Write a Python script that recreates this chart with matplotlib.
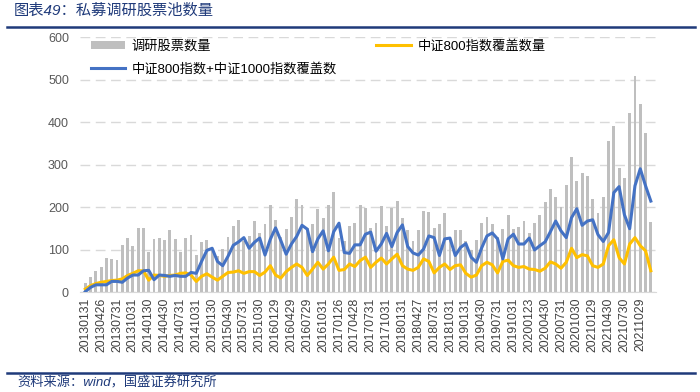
import matplotlib
matplotlib.use("Agg")
import matplotlib.pyplot as plt
import numpy as np
from matplotlib.lines import Line2D

plt.rcParams["font.family"] = ["Liberation Sans", "Noto Sans CJK SC", "DejaVu Sans"]

# monthly data, 2013-01 .. 2021-12
survey_count = [
    21, 36, 49, 60, 81, 78, 76, 111, 128, 109, 150, 151, 95, 124, 128, 123, 145, 124,
    95, 126, 134, 88, 117, 122, 100, 85, 102, 130,
    155, 170, 120, 131, 167, 140, 161, 204, 169, 130, 149, 176, 219, 204, 150, 160,
    196, 175, 204, 236, 128, 120, 155, 163, 204, 197,
    150, 163, 202, 156, 198, 214, 175, 146, 120, 145, 191, 189, 150, 161, 185, 130,
    146, 147, 120, 100, 122, 163, 177, 161, 130, 149, 181, 148,
    154, 167, 138, 163, 182, 213, 242, 224, 199, 252, 318, 261, 280, 272, 220, 185,
    223, 355, 390, 291, 268, 422, 508, 442, 373, 165,
]
csi800_cover = [
    7, 15, 20, 23, 25, 27, 28, 31, 39, 44, 50, 50, 28, 40, 39, 37, 39, 40, 44, 45,
    40, 25, 37, 43, 35, 28, 37, 46,
    47, 50, 44, 48, 48, 39, 47, 62, 40, 33, 48, 58, 66, 58, 39, 54, 70, 54, 66, 82,
    51, 53, 66, 60, 74, 82,
    58, 70, 80, 66, 78, 89, 62, 54, 51, 58, 78, 72, 45, 58, 66, 53, 62, 64, 44, 35,
    40, 62, 70, 64, 45, 72, 75, 62,
    58, 60, 54, 53, 49, 56, 71, 66, 56, 70, 103, 81, 88, 85, 62, 58, 66, 109, 123, 81,
    66, 113, 128, 109, 97, 50,
]
csi800_1000_cover = [
    1, 11, 17, 17, 17, 25, 25, 23, 33, 40, 40, 50, 51, 29, 40, 39, 37, 39, 37, 37,
    46, 44, 72, 98, 103, 72, 62, 84,
    110, 118, 128, 103, 117, 127, 87, 124, 151, 121, 89, 113, 131, 157, 148, 95, 125,
    144, 97, 142, 162, 93, 91, 111, 111, 136,
    141, 96, 113, 138, 107, 140, 158, 107, 92, 87, 101, 132, 128, 86, 125, 127, 86,
    105, 114, 82, 70, 104, 132, 139, 125, 78, 125, 136,
    113, 113, 127, 99, 109, 118, 142, 167, 144, 128, 175, 196, 157, 167, 170, 135, 119,
    140, 234, 248, 182, 149, 250, 290, 250, 214,
]
tick_labels = [
    "20130131", "20130426", "20130731", "20131031", "20140130", "20140430",
    "20140731", "20141031", "20150130", "20150430", "20150731", "20151030",
    "20160129", "20160429", "20160729", "20161031", "20170126", "20170428",
    "20170731", "20171031", "20180131", "20180427", "20180731", "20181031",
    "20190131", "20190430", "20190731", "20191031", "20200123", "20200430",
    "20200731", "20201030", "20210129", "20210430", "20210730", "20211029",
]

BLUE_TXT = "#1F3A7A"

fig = plt.figure(figsize=(7, 3.92), dpi=100)
ax = fig.add_axes([0.1143, 0.255, 0.823, 0.6506])

x = np.arange(len(survey_count))
bars = ax.bar(x, survey_count, width=0.55, color="#BFBFBF", zorder=2, label="调研股票数量")
(l_blue,) = ax.plot(x, csi800_1000_cover, color="#4472C4", lw=2.2, zorder=4,
                    solid_joinstyle="round", label="中证800指数+中证1000指数覆盖数")
(l_yel,) = ax.plot(x, csi800_cover, color="#FFC000", lw=2.2, zorder=3,
                   solid_joinstyle="round", label="中证800指数覆盖数量")

ax.set_xlim(-1, len(x))
ax.set_ylim(0, 600)
ax.set_yticks(range(0, 601, 100))
ax.yaxis.grid(True, color="#D9D9D9", ls=(0, (7, 4)), lw=1.0, zorder=0)
ax.set_axisbelow(True)
ax.set_xticks(np.arange(0, len(x), 3)[: len(tick_labels)])
ax.set_xticklabels(tick_labels, rotation=90, fontsize=8.8, color="#404040")
ax.tick_params(axis="y", labelsize=9, colors="#595959", length=0, pad=8)
ax.tick_params(axis="x", length=0, pad=4)
for s in ["top", "right", "left"]:
    ax.spines[s].set_visible(False)
ax.spines["bottom"].set_color("#D9D9D9")

ax.legend(handles=[bars, l_blue, l_yel], ncol=2, loc="upper left",
          bbox_to_anchor=(-0.002, 1.035), frameon=False, fontsize=9.5,
          columnspacing=3.0, handlelength=2.6, labelspacing=0.75,
          handleheight=0.6, handletextpad=0.5)

# header and footer
fig.text(0.02, 0.972, "图表49：私募调研股票池数量", fontsize=11, color=BLUE_TXT,
         ha="left", va="center", style="italic")
fig.add_artist(Line2D([0.01, 0.993], [0.931, 0.931], color=BLUE_TXT, lw=1.8))
fig.add_artist(Line2D([0.01, 0.993], [0.049, 0.049], color=BLUE_TXT, lw=1.8))
fig.text(0.025, 0.024, "资料来源：wind，国盛证券研究所", fontsize=9.5, color=BLUE_TXT,
         ha="left", va="center", style="italic")

fig.savefig("out.png", dpi=100)
